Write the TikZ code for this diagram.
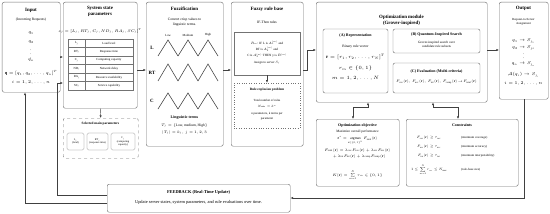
\RequirePackage{fix-cm}
\documentclass[tikz,border=0pt]{standalone}
\usepackage{amsmath}
\usepackage{fontspec}
\setmainfont{Liberation Serif}
\usetikzlibrary{arrows.meta}

\tikzset{
  caja/.style={draw=black!55, line width=0.45pt, rounded corners=2pt, fill=white, anchor=north west, inner sep=0pt},
  mini/.style={draw=black!55, line width=0.35pt, rounded corners=1.5pt, inner sep=0pt, align=center, font=\fontsize{2.7}{3.2}\selectfont},
  titulo/.style={font=\fontsize{4.9}{5.9}\selectfont\bfseries, align=center, inner sep=0pt},
  subtit/.style={font=\fontsize{3.95}{4.6}\selectfont\bfseries, align=center, inner sep=0pt},
  texto/.style={font=\fontsize{3.6}{4.4}\selectfont, align=center, inner sep=0pt},
  mate/.style={font=\fontsize{4.3}{5}\selectfont, align=center, inner sep=0pt},
  chico/.style={font=\fontsize{3.1}{3.9}\selectfont, align=center, inner sep=0pt},
  tri/.style={draw=black!70, line width=0.6pt},
  flecha/.style={draw=black!75, line width=0.45pt, -{Latex[length=2.6pt,width=2.2pt]}},
  dflecha/.style={draw=black!75, line width=0.45pt, {Latex[length=2.6pt,width=2.2pt]}-{Latex[length=2.6pt,width=2.2pt]}},
}

\begin{document}
\begin{tikzpicture}[x=1pt, y=-1pt]
  \useasboundingbox (0,0) rectangle (550,214);

  % Coordenadas auxiliares para las conexiones
  \coordinate (c50) at (0,50);
  \coordinate (c57) at (0,57);
  \coordinate (c70) at (0,70);
  \coordinate (f1) at (0,198);
  \coordinate (fi) at (57,195);
  \coordinate (fs) at (57,83);
  \coordinate (fo) at (25,203);
  \coordinate (ob1) at (368,107);
  \coordinate (ob2) at (353,107);
  \coordinate (rs1) at (433,107);
  \coordinate (rs2) at (458,107);

  % Entrada (solicitudes)
  \node[caja, minimum width=58pt, minimum height=90pt] (input) at (2,2) {};
  \node[titulo] (input-t) at (31,10) {Input};
  \node[texto] (input-d) at (31,20) {(Incoming Requests)};
  \foreach \y/\t [count=\k] in {33/{$q_1$}, 42/{$q_2$}, 51/{$\vdots$}, 60/{$q_n$},
      73/{$\mathbf{q}=[q_1,q_2,\dots,q_n]^T$}, 82/{$i=1,2,\dots,n$}}
    \node[mate] (input-\k) at (31,\y) {\t};

  % Parametros de estado del sistema
  \node[caja, minimum width=74pt, minimum height=106pt] (sistema) at (63,2) {};
  \node[titulo] (sistema-t) at (100,11.5) {System state\\parameters};
  \node[texto, font=\fontsize{3.8}{4.5}\selectfont] (sistema-s) at (100,31) {$s_j=[L_j,RT_j,C_j,ND_j,RA_j,SC_j]^T$};
  \draw[black!55, line width=0.3pt] (68,39) rectangle (133,90) (85,39) -- (85,90);
  \foreach \k in {1,...,5}
    \draw[black!55, line width=0.3pt] (68,{39+8.5*\k}) -- (133,{39+8.5*\k});
  \foreach \k/\p/\d in {0/L_j/Load level, 1/RT_j/Response time, 2/C_j/Computing capacity,
      3/ND_j/Network delay, 4/RA_j/Resource availability, 5/SC_j/Service capability} {
    \node[chico] (par-\k) at (76.5,{43.3+8.5*\k}) {$\mathrm{\p}$};
    \node[chico] (des-\k) at (109,{43.3+8.5*\k}) {\d};
  }

  % Parametros principales seleccionados
  \node[caja, dashed, minimum width=75pt, minimum height=40pt] (selec) at (63,118) {};
  \node[subtit, font=\fontsize{3.4}{4}\selectfont\bfseries] (selec-t) at (100.5,124) {Selected main parameters};
  \foreach \x/\w/\n/\t in {75.5/17/sl/{$\mathrm{L}_j$\\(load)}, 97.5/21/srt/{$\mathrm{RT}_j$\\(response time)},
      123/24/sc/{$\mathrm{C}_j$\\(computing\\capacity)}}
    \node[mini, minimum width=\w pt, minimum height=17pt] (\n) at (\x,141.5) {\t};

  % Fuzzificacion
  \node[caja, minimum width=77pt, minimum height=144pt] (fuzz) at (146,2) {};
  \node[titulo] (fuzz-t) at (184.5,9) {Fuzzification};
  \node[texto] (fuzz-d) at (184.5,22) {Convert crisp values to\\linguistic terms.};
  \foreach \x/\t in {168/Low, 188/Medium, 208/High}
    \node[chico] (fz-\t) at (\x,35) {\t};
  \foreach \f/\yb/\yt in {L/56/40, RT/81/64, C/109/93} {
    \node[titulo] (fz-\f) at (152,{(\yb+\yt)/2}) {\f};
    \foreach \k in {0,1,2}
      \draw[tri] ({158+20*\k},\yb) -- ({168+20*\k},\yt) -- ({178+20*\k},\yb);
  }
  \node[subtit] (fuzz-l) at (184.5,118) {Linguistic terms};
  \node[texto] (fuzz-tj) at (184.5,125.5) {$T_j=\{\text{Low, medium, High}\}$};
  \node[texto] (fuzz-kj) at (184.5,132.5) {$|T_j|=k_j,\ j=1,2,3$};

  % Base de reglas difusas
  \node[caja, minimum width=72pt, minimum height=144pt] (regla) at (231,2) {};
  \node[titulo] (regla-t) at (267,9) {Fuzzy rule base};
  \node[texto] (regla-d) at (267,22) {IF-Then rules};
  \node[caja, anchor=center, minimum width=66pt, minimum height=43pt, rounded corners=0pt] (reglas) at (267,53.5) {};
  \node[chico, font=\fontsize{3.2}{6.4}\selectfont] (reglas-d) at (267,52.5)
    {$R_m$: IF L is $A_1^{(m)}$ and\\RT is $A_2^{(m)}$ and\\C is $A_3^{(m)}$ THEN y is $B^{(m)}$\\Assign to server $S_j$};
  \node[caja, anchor=center, dotted, minimum width=66pt, minimum height=45pt, rounded corners=0pt] (explosion) at (267,105.5) {};
  \node[subtit, font=\fontsize{3.4}{4}\selectfont\bfseries] (exp-t) at (267,90) {Rule explosion problem};
  \foreach \y/\t [count=\k] in {100.5/{Total number of rules}, 106.5/{$N_{\text{rules}}=k^n$},
      113.5/{n parameters, k terms per}, 119/{parameter}}
    \node[chico] (ex-\k) at (267,\y) {\t};

  % Modulo de optimizacion (inspirado en Grover)
  \node[caja, minimum width=171pt, minimum height=100pt] (opt) at (316,2) {};
  \node[titulo] (opt-t) at (401.5,20.5) {Optimization module\\(Grover-inspired)};
  \node[caja, anchor=center, minimum width=65pt, minimum height=64pt] (repr) at (355.5,61) {};
  \node[subtit] (repr-t) at (355.5,36) {(A) Representation};
  \node[texto] (rp-1) at (355.5,47) {Binary rule vector};
  \foreach \y/\t [count=\k] in {57/{$\mathbf{r}=[r_1,r_2,\dots,r_N]^T$},
      68/{$r_m\in\{0,1\}$}, 78/{$m=1,2,\dots,N$}}
    \node[mate, font=\fontsize{4.8}{5.5}\selectfont] (rp-m\k) at (355.5,\y) {\t};
  \node[caja, anchor=center, minimum width=87pt, minimum height=24pt] (busq) at (436.5,41) {};
  \node[subtit] (busq-t) at (436.5,34.5) {(B) Quantum-Inspired Search};
  \node[chico, font=\fontsize{3.3}{4}\selectfont] (busq-d) at (436.5,44.5) {Grover-inspired search over\\candidate rule subsets};
  \node[caja, anchor=center, minimum width=87pt, minimum height=30pt] (eval) at (436.5,78) {};
  \node[subtit] (eval-t) at (436.5,72) {(C) Evaluation (Multi-criteria)};
  \node[chico, font=\fontsize{3.55}{4.2}\selectfont] (eval-f) at (436.5,82)
    {$F_{\text{cov}}(\mathbf{r}),\ F_{\text{acc}}(\mathbf{r}),\ F_{\text{int}}(\mathbf{r}),\ F_{\text{comp}}(\mathbf{r})\!\to\!F_{\text{total}}(\mathbf{r})$};

  % Objetivo de optimizacion
  \node[caja, minimum width=83pt, minimum height=67pt] (objetivo) at (316,119) {};
  \node[subtit] (obj-t) at (357.5,125.5) {Optimization objective};
  \node[chico, font=\fontsize{3.4}{4}\selectfont] (obj-d) at (357.5,131.5) {Maximize overall performance};
  \node[chico, font=\fontsize{3.6}{4.2}\selectfont] (obj-1) at (357.5,140.5)
    {$\displaystyle\mathbf{r}^*=\operatorname*{argmax}_{\mathbf{r}\in\{0,1\}^N}F_{\text{total}}(\mathbf{r})$};
  \node[chico, font=\fontsize{3.6}{6}\selectfont] (obj-2) at (357.5,153.5)
    {$F_{\text{total}}(\mathbf{r})=\lambda_{\text{cov}}F_{\text{cov}}(\mathbf{r})+\lambda_{\text{acc}}F_{\text{acc}}(\mathbf{r})$\\
     $\quad+\,\lambda_{\text{int}}F_{\text{int}}(\mathbf{r})+\lambda_{\text{comp}}F_{\text{comp}}(\mathbf{r})$};
  \node[chico, font=\fontsize{3.6}{4.2}\selectfont] (obj-4) at (357.5,175)
    {$K(\mathbf{r})=\sum\limits_{m=1}^{N}r_m\in\{0,1\}$};

  % Restricciones
  \node[caja, minimum width=112pt, minimum height=67pt] (restr) at (406,119) {};
  \node[subtit] (restr-t) at (462,125) {Constraints};
  \foreach \y/\f/\d [count=\k] in {138/{$F_{\text{cov}}(\mathbf{r})\ge\tau_{\text{cov}}$}/{(minimum coverage)},
      147/{$F_{\text{acc}}(\mathbf{r})\ge\tau_{\text{acc}}$}/{(minimum accuracy)},
      156/{$F_{\text{int}}(\mathbf{r})\ge\tau_{\text{int}}$}/{(minimum interpretability)},
      170/{$\displaystyle 1\le\sum_{m=1}^{N}r_m\le N_{\max}$}/{(rule-base size)}} {
    \node[chico, font=\fontsize{3.3}{4}\selectfont] (rs-\k) at (429,\y) {\f};
    \node[chico] [anchor=west] (rd-\k) at (461,\y) {\d};
  }

  % Salida (asignacion)
  \node[caja, minimum width=49pt, minimum height=97pt] (salida) at (499,2) {};
  \node[titulo] (salida-t) at (523.5,8.5) {Output};
  \node[chico] (salida-d) at (523.5,22) {Request-to-Server\\Assignment};
  \foreach \y/\t [count=\k] in {41/{$q_1\to S_{j_1}$}, 47.5/{$q_2\to S_{j_2}$}, 55.5/{$\vdots$}, 64/{$q_n\to S_{j_n}$},
      75/{$\mathcal{A}(q_i)\to S_{j_i}$}, 83/{$i=1,2,\dots,n$}}
    \node[mate] (sal-\k) at (523.5,\y) {\t};

  % Realimentacion en tiempo real
  \node[caja, minimum width=183pt, minimum height=28pt] (feed) at (107,184) {};
  \node[subtit, font=\fontsize{4.4}{5}\selectfont\bfseries] (feed-t) at (198.5,192) {FEEDBACK (Real-Time Update)};
  \node[texto, font=\fontsize{4.4}{5}\selectfont] (feed-d) at (198.5,202.5)
    {Update server states, system parameters, and rule evaluations over time.};

  % Conexiones principales
  \draw[flecha] (input.east |- c57) -- (sistema.west |- c57);
  \draw[flecha] (sistema.east |- c70) -- (fuzz.west |- c70);
  \draw[flecha] (fuzz.east |- c70) -- (regla.west |- c70);
  \draw[flecha] (regla.east |- c70) -- ++(4,0) |- (opt.west |- c50);
  \draw[flecha] (opt.east |- c50) -- (salida.west |- c50);
  \draw[flecha] (sistema.south) -- (selec.north);
  \draw[flecha] (reglas.south) -- (explosion.north);
  \draw[dflecha] (opt.south -| ob1) -- (ob1) -| (objetivo.north -| ob2);
  \draw[dflecha] (opt.south -| rs1) -- (rs1) -| (restr.north -| rs2);

  % Lazo de realimentacion
  \draw[flecha] (salida.south) |- (feed.east |- f1);
  \draw[flecha] (feed.west |- fi) -| (fs) -- (sistema.west |- fs);
  \draw[flecha] (feed.west |- fo) -| (input.south -| fo);

\end{tikzpicture}
\end{document}
